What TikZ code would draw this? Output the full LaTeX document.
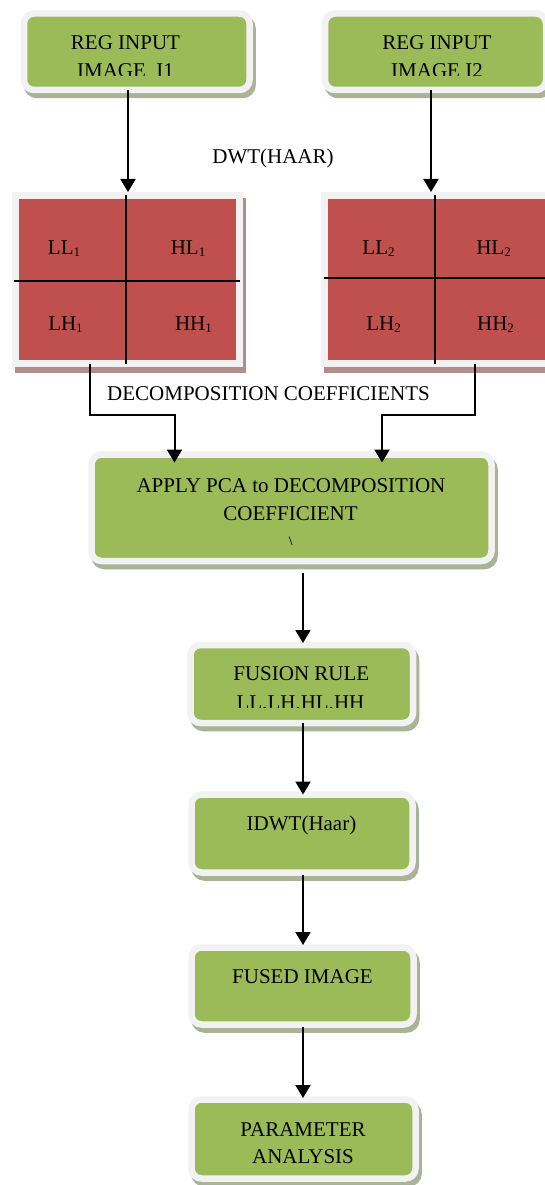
\documentclass[tikz,border=0pt]{standalone}
\usepackage{fontspec}
\setmainfont{Liberation Serif}
\usetikzlibrary{arrows.meta,calc}
\definecolor{gfill}{HTML}{9BBB59}
\definecolor{rfill}{HTML}{C0504D}
\definecolor{bord}{HTML}{F2F2F2}
\definecolor{gshadow}{HTML}{A9B396}
\definecolor{rshadow}{HTML}{B38C8C}
\newcommand\subs[1]{\raisebox{-2.5pt}{\fontsize{13}{13}\selectfont #1}}
\tikzset{
  gbox/.style={rectangle, rounded corners=10pt, fill=gfill, draw=bord, line width=6.5pt,
    inner sep=0pt, outer sep=0pt,
    preaction={fill=gshadow, draw=gshadow, line width=6.5pt, transform canvas={xshift=3pt,yshift=-5pt}}},
  rbox/.style={rectangle, fill=rfill, draw=bord, line width=7pt, inner sep=0pt, outer sep=0pt,
    preaction={fill=rshadow, draw=rshadow, line width=7pt, transform canvas={xshift=3pt,yshift=-6pt}}},
  txt/.style={font=\fontsize{21}{27}\selectfont, inner sep=0pt, anchor=base},
  sml/.style={font=\fontsize{16}{16}\selectfont, inner sep=0pt, anchor=base},
  arr/.style={line width=2pt, -{Triangle[length=13pt,width=15pt]}},
  divline/.style={line width=1.3pt},
}
\begin{document}
\begin{tikzpicture}[x=1pt,y=-1pt]
\clip (0,0) rectangle (545,1185);
\fill[white] (0,0) rectangle (545,1185);
% boxes
\node[gbox, minimum width=225.5pt, minimum height=76.5pt] (in1) at (136.75,51.75) {};
\node[gbox, minimum width=221pt, minimum height=76.5pt] (in2) at (435.5,51.75) {};
\node[rbox, minimum width=224pt, minimum height=168pt] (red1) at (127.5,279.5) {};
\node[rbox, minimum width=224pt, minimum height=168pt] (red2) at (436.5,279.5) {};
\node[gbox, minimum width=400pt, minimum height=106.5pt] (pca) at (291.5,507.75) {};
\node[gbox, minimum width=222.5pt, minimum height=78pt] (fusion) at (301.75,684) {};
\node[gbox, minimum width=221pt, minimum height=78pt] (idwt) at (302,833.5) {};
\node[gbox, minimum width=222pt, minimum height=77pt] (fused) at (302.5,986) {};
\node[gbox, minimum width=224pt, minimum height=79pt] (param) at (303.5,1139) {};
% dividers
\draw[divline] ([xshift=-1.5pt]red1.north) -- ([xshift=-1.5pt]red1.south);
\draw[divline] ([xshift=-1.5pt,yshift=-1.5pt]red1.west) -- ([xshift=0.5pt,yshift=-1.5pt]red1.east);
\draw[divline] ([xshift=-1.5pt]red2.north) -- ([xshift=-1.5pt]red2.south);
\draw[divline] ([xshift=-0.5pt,yshift=1.5pt]red2.west) -- ([xshift=5pt,yshift=1.5pt]red2.east);
% arrows
\draw[arr] ([xshift=-8.75pt]in1.south) -- ([xshift=0.5pt,yshift=3.5pt]red1.north);
\draw[arr] ([xshift=-4.5pt]in2.south) -- ([xshift=-5.5pt,yshift=3.5pt]red2.north);
\draw[arr] ([xshift=-37.5pt]red1.south) -- ++(0,51) -| ([xshift=-117pt,yshift=-8pt]pca.north);
\draw[arr] ([xshift=38.5pt]red2.south) -- ++(0,51) -| ([xshift=90.5pt,yshift=-8pt]pca.north);
\draw[arr, shorten <=12pt] ([xshift=11.5pt]pca.south) -- ([xshift=1.25pt,yshift=2pt]fusion.north);
\draw[arr] ([xshift=1.25pt]fusion.south) -- ([xshift=1pt]idwt.north);
\draw[arr, shorten <=2.5pt] ([xshift=1pt]idwt.south) -- ([xshift=0.5pt,yshift=2.5pt]fused.north);
\draw[arr, shorten <=2.5pt] ([xshift=0.5pt]fused.south) -- ([xshift=-0.5pt,yshift=1.5pt]param.north);
% texts
\node[txt] (in1a) at (125.5,49.3) {REG INPUT};
\node[txt] (in2a) at (437,49.3) {REG INPUT};
\begin{scope}
\clip (0,0) rectangle (545,76);
\node[txt] (in1b) at (125.5,77.3) {IMAGE\ \ I1};
\node[txt] (in2b) at (437,77.3) {IMAGE I2};
\end{scope}
\node[txt] (dwt) at (273,163.3) {DWT(HAAR)};
\node[txt] (ll1) at (64,254) {LL\subs{1}};
\node[txt] (hl1) at (188,254) {HL\subs{1}};
\node[txt] (lh1) at (65.5,330) {LH\subs{1}};
\node[txt] (hh1) at (193.5,330) {HH\subs{1}};
\node[txt] (ll2) at (378.5,254) {LL\subs{2}};
\node[txt] (hl2) at (493.5,254) {HL\subs{2}};
\node[txt] (lh2) at (383.5,330) {LH\subs{2}};
\node[txt] (hh2) at (495.5,330) {HH\subs{2}};
\node[txt] (dec) at (268.5,400.5) {DECOMPOSITION COEFFICIENTS};
\node[txt] (pcaa) at (291,492.7) {APPLY PCA to DECOMPOSITION};
\node[txt] (pcab) at (290.5,520) {COEFFICIENT};
\begin{scope}
\clip (0,530) rectangle (545,544);
\node[sml] (pcac) at (291,547) {\textbackslash};
\end{scope}
\node[txt] (fusa) at (301.3,680.7) {FUSION RULE};
\begin{scope}
\clip (0,600) rectangle (545,707.5);
\node[txt] (fusb) at (300.5,709.3) {LL,LH,HL,HH};
\end{scope}
\node[txt] (idwtt) at (301.5,830) {IDWT(Haar)};
\node[txt] (fusedt) at (302.5,983.3) {FUSED IMAGE};
\node[txt] (parama) at (303,1136) {PARAMETER};
\node[txt] (paramb) at (303,1163.3) {ANALYSIS};
\end{tikzpicture}
\end{document}
